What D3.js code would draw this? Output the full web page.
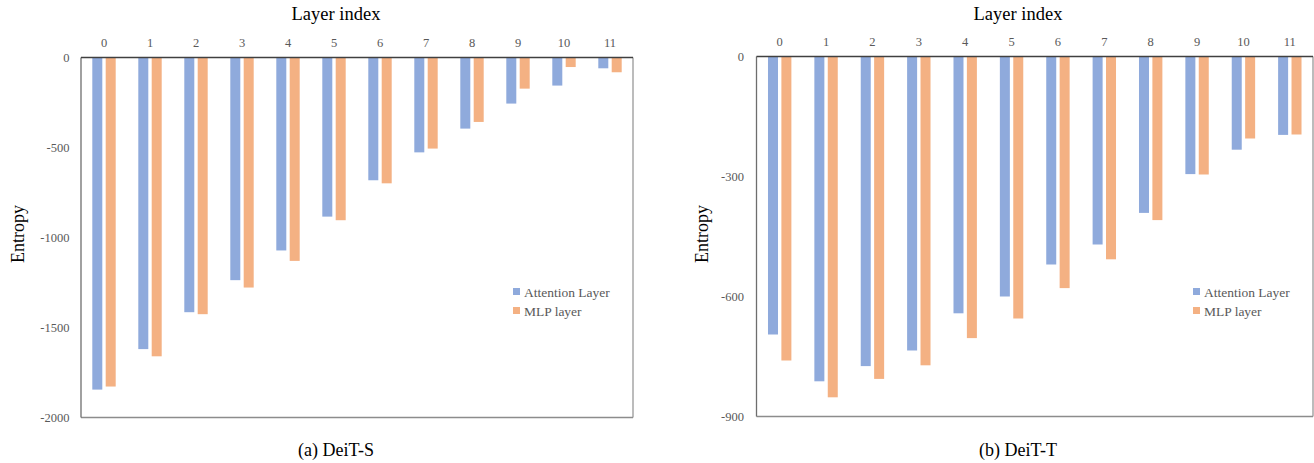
<!DOCTYPE html>
<html>
<head>
<meta charset="utf-8">
<script src="https://cdn.jsdelivr.net/npm/d3@7"></script>
<style>
  html, body { margin: 0; padding: 0; background: #fff; }
  svg text { font-family: "Liberation Serif", "Times New Roman", Tinos, "DejaVu Serif", serif; }
</style>
</head>
<body>
<div id="chart"></div>
<script>
// layer indices along the top axis
const layers = [0, 1, 2, 3, 4, 5, 6, 7, 8, 9, 10, 11];
const seriesNames = ["Attention Layer", "MLP layer"];

// (a) DeiT-S
const deitSAttention = [-1845, -1620, -1415, -1237, -1072, -884, -682, -527, -395, -256, -156, -60];
const deitSMlp = [-1828, -1660, -1426, -1278, -1130, -904, -699, -506, -358, -173, -53, -82];
const deitSTicks = [0, -500, -1000, -1500, -2000];

// (b) DeiT-T
const deitTAttention = [-695, -812, -774, -735, -642, -600, -520, -470, -391, -294, -233, -196];
const deitTMlp = [-760, -852, -806, -772, -704, -655, -579, -507, -409, -295, -205, -195];
const deitTTicks = [0, -300, -600, -900];

const attColor = "#8faadc";
const mlpColor = "#f4b183";
const tickColor = "#595959";
const serif = '"Liberation Serif", "Times New Roman", Tinos, "DejaVu Serif", serif';

const svg = d3.select("#chart")
    .append("svg")
    .attr("width", 1314)
    .attr("height", 463)
    .attr("font-family", serif);

function drawPanel(p) {
    const g = svg.append("g");

    const x = d3.scaleBand()
        .domain(layers)
        .range([p.left, p.right])
        .padding(0);

    const y = d3.scaleLinear()
        .domain([d3.min(p.ticks), 0])
        .range([p.bottom, p.top]);

    const barW = 10, gap = 3.4;
    const rows = layers.map((l, i) => ({ layer: l, att: p.att[i], mlp: p.mlp[i] }));

    // bars
    g.selectAll(".att")
        .data(rows)
        .join("rect")
        .attr("x", d => x(d.layer) + x.bandwidth() / 2 - gap / 2 - barW)
        .attr("y", y(0))
        .attr("width", barW)
        .attr("height", d => y(d.att) - y(0))
        .attr("fill", attColor);

    g.selectAll(".mlp")
        .data(rows)
        .join("rect")
        .attr("x", d => x(d.layer) + x.bandwidth() / 2 + gap / 2)
        .attr("y", y(0))
        .attr("width", barW)
        .attr("height", d => y(d.mlp) - y(0))
        .attr("fill", mlpColor);

    // plot frame: gray right/bottom, dark left/top axis lines
    g.append("line")
        .attr("x1", p.right).attr("x2", p.right)
        .attr("y1", p.top).attr("y2", p.bottom)
        .attr("stroke", "#a6a6a6").attr("stroke-width", 1.5);
    g.append("line")
        .attr("x1", p.left).attr("x2", p.right)
        .attr("y1", p.bottom).attr("y2", p.bottom)
        .attr("stroke", "#8c8c8c").attr("stroke-width", 1.5);
    g.append("line")
        .attr("x1", p.left).attr("x2", p.left)
        .attr("y1", p.top).attr("y2", p.bottom)
        .attr("stroke", "#6e6e6e").attr("stroke-width", 1.3);
    g.append("line")
        .attr("x1", p.left).attr("x2", p.right)
        .attr("y1", y(0)).attr("y2", y(0))
        .attr("stroke", "#404040").attr("stroke-width", 1.5);

    // category axis on top
    const xAxis = g.append("g")
        .attr("transform", `translate(0, ${y(0)})`)
        .call(d3.axisTop(x).tickSize(0).tickPadding(11))
        .attr("font-family", serif)
        .attr("font-size", 12.5);
    xAxis.select(".domain").remove();
    xAxis.selectAll("text").attr("fill", tickColor);

    // value axis
    const yAxis = g.append("g")
        .attr("transform", `translate(${p.left}, 0)`)
        .call(d3.axisLeft(y).tickValues(p.ticks).tickSize(0).tickPadding(p.yPad).tickFormat(d => String(d)))
        .attr("font-family", serif)
        .attr("font-size", 12.5);
    yAxis.select(".domain").remove();
    yAxis.selectAll("text").attr("fill", tickColor);

    // titles
    g.append("text")
        .attr("x", p.titleX)
        .attr("y", 20)
        .attr("text-anchor", "middle")
        .attr("font-size", 18.5)
        .text("Layer index");

    g.append("text")
        .attr("transform", `translate(${p.yTitleX}, 234) rotate(-90)`)
        .attr("text-anchor", "middle")
        .attr("font-size", 18)
        .text("Entropy");

    g.append("text")
        .attr("x", p.titleX)
        .attr("y", 456)
        .attr("text-anchor", "middle")
        .attr("font-size", 18)
        .text(p.caption);

    // legend
    const legend = g.append("g")
        .attr("transform", `translate(${p.right - 120}, 292)`);
    seriesNames.forEach((name, i) => {
        legend.append("rect")
            .attr("x", 0)
            .attr("y", i * 19 - 4)
            .attr("width", 7)
            .attr("height", 7)
            .attr("fill", i === 0 ? attColor : mlpColor);
        legend.append("text")
            .attr("x", 11)
            .attr("y", i * 19 + 4.5)
            .attr("fill", tickColor)
            .attr("font-size", 13.5)
            .text(name);
    });
}

drawPanel({
    left: 81, right: 633, top: 57.5, bottom: 417.5,
    att: deitSAttention, mlp: deitSMlp, ticks: deitSTicks,
    yPad: 11.5, titleX: 336, yTitleX: 24, caption: "(a) DeiT-S"
});

drawPanel({
    left: 756.5, right: 1313, top: 56.5, bottom: 416.5,
    att: deitTAttention, mlp: deitTMlp, ticks: deitTTicks,
    yPad: 12.5, titleX: 1018, yTitleX: 708, caption: "(b) DeiT-T"
});
</script>
</body>
</html>
